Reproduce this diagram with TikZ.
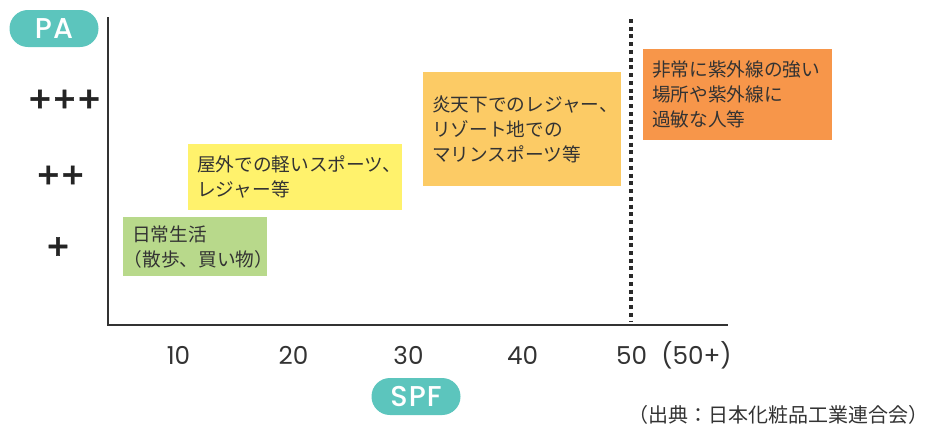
\documentclass[tikz,border=0pt]{standalone}
\usepackage{fontspec}
\setmainfont{Noto Sans CJK JP}
\newfontfamily\geofont{Poppins}
\newfontfamily\pillfont{Poppins}[UprightFont={* Medium}, LetterSpace=4]
\newfontfamily\plusfont{DejaVu Sans}[BoldFont={DejaVu Sans Bold}, BoldFeatures={FakeBold=1.5}]
\usetikzlibrary{positioning}
\definecolor{pillteal}{HTML}{5CC5BD}
\definecolor{dailygreen}{HTML}{B8D98B}
\definecolor{lightyellow}{HTML}{FFF26C}
\definecolor{paleorange}{HTML}{FCCB65}
\definecolor{deeporange}{HTML}{F7964A}
\definecolor{inkgray}{HTML}{333333}

\begin{document}
\begin{tikzpicture}[
  x=0.75pt, y=-0.75pt,
  pill/.style={fill=pillteal, text=white, rounded corners=13.8pt, minimum width=66.75pt, minimum height=27.75pt, inner sep=0pt, font=\pillfont\fontsize{21.5}{21.5}\selectfont},
  zone/.style={anchor=north west, inner xsep=6.75pt, inner ysep=0pt, align=left, text=inkgray, font=\fontsize{14}{18.75}\selectfont},
  palevel/.style={font=\plusfont\bfseries\fontsize{22}{22}\selectfont, text=inkgray!70!black, inner sep=0pt},
  spfnum/.style={font=\geofont\fontsize{18.5}{18.5}\selectfont, text=inkgray, inner sep=0pt},
  axisline/.style={draw=inkgray, line width=1.5pt},
  cutline/.style={draw=inkgray!80!black, line width=3pt, dash pattern=on 3pt off 2.8pt},
]
\useasboundingbox (0,0) rectangle (930,430);

% axes
\coordinate (ytop) at (108,17);
\coordinate (origin) at (108,325);
\coordinate (xend) at (728,325);
\draw[axisline] (ytop) -- (origin) -- (xend);

% axis titles
\node[pill] (pa) at (54,28.5) {PA};
\node[pill] (spf) at (416,396.5) {SPF};

% PA levels
\node[palevel] (pa3) at (64.5,99) {+++};
\node[palevel] (pa2) at (60.5,175) {++};
\node[palevel] (pa1) at (58,246.5) {+};

% SPF values
\node[spfnum] (s10) at (178.5,355.5) {10};
\node[spfnum] (s20) at (293.5,355.5) {20};
\node[spfnum] (s30) at (408.5,355.5) {30};
\node[spfnum] (s40) at (522.5,355.5) {40};
\node[spfnum] (s50) at (631.5,355.5) {50};
\node[spfnum] (s50p) at (696.5,355.5) {(50+)};

% SPF 50 limit
\coordinate (cut top) at (631,19);
\coordinate (cut bot) at (631,322);
\draw[cutline] (cut top) -- (cut bot);

% usage zones
\node[zone, fill=dailygreen, minimum width=108pt, minimum height=44.25pt, text width=94.5pt] (daily) at (123,217)
  {日常生活\\\hspace*{-0.45em}（散歩、買い物）};
\node[zone, fill=lightyellow, minimum width=160.5pt, minimum height=49.5pt, text width=147pt] (outdoor) at (188,144)
  {屋外での軽いスポーツ、\\レジャー等};
\node[zone, fill=paleorange, minimum width=148.5pt, minimum height=85.5pt, text width=135pt] (resort) at (423,72)
  {炎天下でのレジャー、\\リゾート地での\\マリンスポーツ等};
\node[zone, fill=deeporange, minimum width=141.75pt, minimum height=68.25pt, text width=128.25pt] (strong) at (643,49)
  {非常に紫外線の強い\\場所や紫外線に\\過敏な人等};

% source
\node[font=\fontsize{15}{15}\selectfont, text=inkgray, inner sep=0pt, anchor=east] (source) at (929,415)
  {（出典：日本化粧品工業連合会）};
\end{tikzpicture}
\end{document}
